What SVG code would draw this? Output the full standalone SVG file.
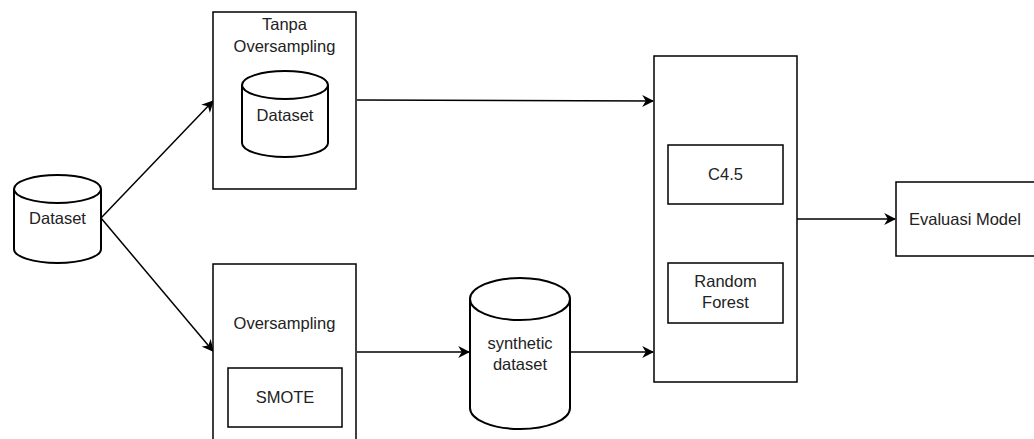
<svg xmlns="http://www.w3.org/2000/svg" width="1034" height="439" viewBox="0 0 1034 439">
<style>
.box{fill:#fff;stroke:#000;stroke-width:1.5}
.cyl{fill:#fff;stroke:#000;stroke-width:2}
.t{font-family:"Liberation Sans",Arial,sans-serif;font-size:16.5px;fill:#222;text-anchor:middle}
.e{stroke:#000;stroke-width:1.5;fill:none;marker-end:url(#ah)}
</style>
<defs>
<marker id="ah" viewBox="0 0 10 10" refX="9" refY="5" markerWidth="12" markerHeight="12" markerUnits="userSpaceOnUse" orient="auto">
<path d="M0,0 L10,5 L0,10 L3,5 Z" fill="#000"/>
</marker>
</defs>
<rect width="1034" height="439" fill="#fff"/>
<g id="connectors">
<line class="e" x1="101" y1="218" x2="213" y2="101"/>
<line class="e" x1="101" y1="218" x2="213" y2="351"/>
<line class="e" x1="357" y1="100" x2="653" y2="101"/>
<line class="e" x1="357" y1="352" x2="469" y2="352"/>
<line class="e" x1="570" y1="352" x2="653" y2="352"/>
<line class="e" x1="797" y1="219" x2="895" y2="219"/>
</g>
<g id="dataset">
<path class="cyl" d="M14,189 A43.5,14 0 0 1 101,189 L101,249 A43.5,14 0 0 1 14,249 Z"/>
<path class="cyl" d="M14,189 A43.5,14 0 0 0 101,189" fill="none"/>
<text class="t" x="57.5" y="224">Dataset</text>
</g>
<g id="tanpa-oversampling">
<rect class="box" x="213" y="12" width="143" height="177"/>
<text class="t" x="284.5" y="30">Tanpa</text>
<text class="t" x="284.5" y="52">Oversampling</text>
<path class="cyl" d="M242,85 A43,14 0 0 1 328,85 L328,143 A43,14 0 0 1 242,143 Z"/>
<path class="cyl" d="M242,85 A43,14 0 0 0 328,85" fill="none"/>
<text class="t" x="285" y="121">Dataset</text>
</g>
<g id="oversampling">
<rect class="box" x="213" y="264" width="143" height="185"/>
<text class="t" x="284.5" y="329">Oversampling</text>
<rect class="box" x="228" y="368" width="114" height="59"/>
<text class="t" x="285" y="403">SMOTE</text>
</g>
<g id="synthetic-dataset">
<path class="cyl" d="M470,299 A50,21 0 0 1 570,299 L570,408 A50,21 0 0 1 470,408 Z"/>
<path class="cyl" d="M470,299 A50,21 0 0 0 570,299" fill="none"/>
<text class="t" x="520" y="349">synthetic</text>
<text class="t" x="520" y="370">dataset</text>
</g>
<g id="models">
<rect class="box" x="654" y="56" width="143" height="326"/>
<rect class="box" x="668" y="145" width="115" height="59"/>
<text class="t" x="725.5" y="180">C4.5</text>
<rect class="box" x="668" y="263" width="115" height="60"/>
<text class="t" x="725.5" y="287">Random</text>
<text class="t" x="725.5" y="308">Forest</text>
</g>
<g id="evaluasi-model">
<rect class="box" x="896" y="182" width="140" height="74"/>
<text class="t" x="909" y="225" style="text-anchor:start">Evaluasi Model</text>
</g>
</svg>
